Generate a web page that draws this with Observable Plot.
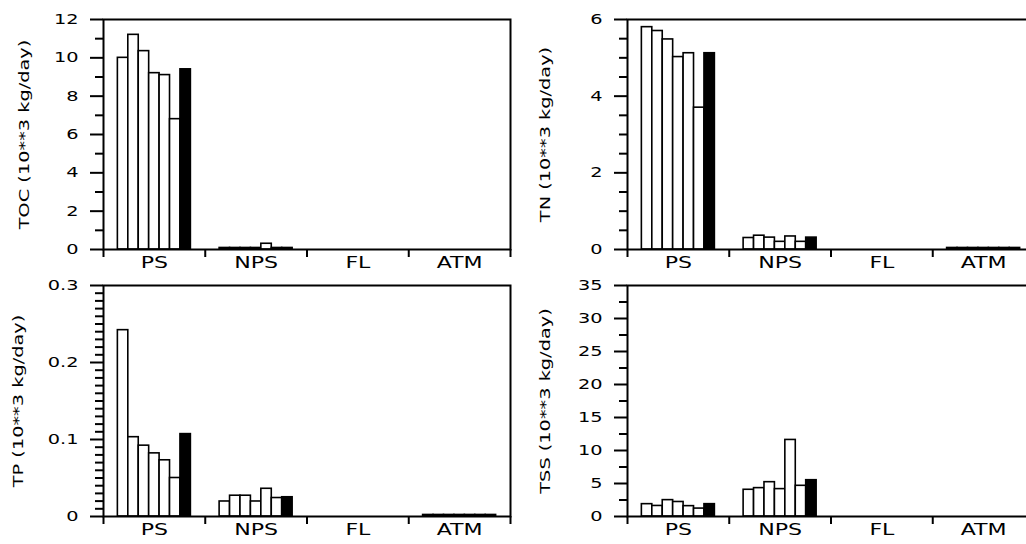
<!DOCTYPE html>
<html><head><meta charset="utf-8">
<script src="https://cdn.jsdelivr.net/npm/d3@7"></script>
<script src="https://cdn.jsdelivr.net/npm/@observablehq/plot@0.6"></script>
<style>
html,body{margin:0;padding:0;background:#fff;overflow:hidden;}
#chart{position:relative;width:1026px;height:544px;overflow:hidden;background:#fff;}
#chart svg{position:absolute;}
</style></head><body><div id="chart"></div>
<script>
// Categories along each x axis
const categories = ["PS", "NPS", "FL", "ATM"];

// TOC (10**3 kg/day): 7 bars per category (last = black)
const tocPS  = [10.0, 11.2, 10.35, 9.2, 9.1, 6.8, 9.4];
const tocNPS = [0.08, 0.08, 0.08, 0.08, 0.3, 0.08, 0.08];
const tocFL  = [0, 0, 0, 0, 0, 0, 0];
const tocATM = [0, 0, 0, 0, 0, 0, 0];

// TN (10**3 kg/day)
const tnPS  = [5.8, 5.7, 5.48, 5.02, 5.12, 3.7, 5.12];
const tnNPS = [0.30, 0.36, 0.31, 0.20, 0.34, 0.20, 0.31];
const tnFL  = [0, 0, 0, 0, 0, 0, 0];
const tnATM = [0.04, 0.04, 0.04, 0.04, 0.04, 0.04, 0.04];

// TP (10**3 kg/day)
const tpPS  = [0.242, 0.103, 0.092, 0.082, 0.073, 0.05, 0.107];
const tpNPS = [0.0195, 0.027, 0.027, 0.0195, 0.036, 0.024, 0.025];
const tpFL  = [0, 0, 0, 0, 0, 0, 0];
const tpATM = [0.002, 0.002, 0.002, 0.002, 0.002, 0.002, 0.002];

// TSS (10**3 kg/day)
const tssPS  = [1.87, 1.6, 2.48, 2.2, 1.57, 1.2, 1.87];
const tssNPS = [4.05, 4.3, 5.2, 4.15, 11.6, 4.65, 5.5];
const tssFL  = [0, 0, 0, 0, 0, 0, 0];
const tssATM = [0, 0, 0, 0, 0, 0, 0];

// Axis tick labels
const tocTicks = [0, 2, 4, 6, 8, 10, 12];
const tnTicks  = [0, 2, 4, 6];
const tpTicks  = [0, 0.1, 0.2, 0.3];
const tssTicks = [0, 5, 10, 15, 20, 25, 30, 35];

const labels = ["TOC (10**3 kg/day)", "TN (10**3 kg/day)", "TP (10**3 kg/day)", "TSS (10**3 kg/day)"];

const panels = [
  {label: labels[0], series: [tocPS, tocNPS, tocFL, tocATM], domain: [0, 12], major: tocTicks, minorStep: 1, left: 0, top: 0, mb: 23, labelX: 24},
  {label: labels[1], series: [tnPS, tnNPS, tnFL, tnATM], domain: [0, 6], major: tnTicks, minorStep: 0.5, left: 524, top: 0, mb: 23, labelX: 21},
  {label: labels[2], series: [tpPS, tpNPS, tpFL, tpATM], domain: [0, 0.3], major: tpTicks, minorStep: 0.01, left: 0, top: 266, mb: 22, labelX: 18},
  {label: labels[3], series: [tssPS, tssNPS, tssFL, tssATM], domain: [0, 35], major: tssTicks, minorStep: 2.5, left: 524, top: 266, mb: 22, labelX: 21}
];

const W = 520, H = 272, ML = 103, MR = 10, MT = 19;
const barFrac = 10.43 / 101.75;           // one bar's share of a category
const groupOff = (1 - 7 * barFrac) / 2;   // centering offset of the 7-bar group
const fmt = d => String(+d.toFixed(3));

const chart = document.getElementById("chart");

panels.forEach(p => {
  const rows = [];
  p.series.forEach((vals, ci) => vals.forEach((v, bi) => rows.push({cat: categories[ci], ci, bi, value: v})));
  const n = Math.round((p.domain[1] - p.domain[0]) / p.minorStep);
  const minor = d3.range(0, n + 1).map(i => +(i * p.minorStep).toFixed(4))
    .filter(t => !p.major.some(m => Math.abs(m - t) < 1e-9));
  const x1 = d => d.ci + groupOff + d.bi * barFrac;
  const x2 = d => d.ci + groupOff + (d.bi + 1) * barFrac;
  const svg = Plot.plot({
    width: W, height: H,
    marginLeft: ML, marginRight: MR, marginTop: MT, marginBottom: p.mb,
    x: {domain: [0, 4], axis: null},
    y: {domain: p.domain, axis: null},
    style: {fontFamily: "DejaVu Sans", fontSize: "14px", color: "#000", background: "transparent", overflow: "visible"},
    marks: [
      Plot.rectY(rows, {filter: d => d.bi < 6 && d.value > 0, x1, x2, y1: 0, y2: "value", fill: "#fff", stroke: "#000", strokeWidth: 1.6}),
      Plot.rectY(rows, {filter: d => d.bi === 6 && d.value > 0, x1, x2, y1: 0, y2: "value", fill: "#000", stroke: "#000", strokeWidth: 1.6}),
      Plot.frame({stroke: "#000", strokeWidth: 2}),
      Plot.axisX({ticks: [0, 1, 2, 3, 4], tickSize: 8, tickFormat: () => "", strokeWidth: 2}),
      Plot.axisX({ticks: [0.5, 1.5, 2.5, 3.5], tickSize: 0, tickPadding: 7, fontSize: 16,
        tickFormat: v => categories[Math.floor(v)]}),
      Plot.axisY({ticks: p.major, tickSize: 13, tickPadding: 12, tickFormat: fmt, label: null, strokeWidth: 2, fontSize: 14}),
      Plot.axisY({ticks: minor, tickSize: 8, tickFormat: () => "", label: null, strokeWidth: 2}),
      Plot.text([p.label], {text: d => d, frameAnchor: "left", textAnchor: "middle", lineAnchor: "middle", rotate: -90, dx: -(ML - p.labelX), fontSize: 14, fill: "#000"})
    ]
  });
  svg.style.left = p.left + "px";
  svg.style.top = p.top + "px";
  chart.appendChild(svg);
  // stretch glyphs horizontally to mimic the wide bitmap font
  d3.select(svg).selectAll("text").each(function() {
    const len = this.getComputedTextLength();
    if (len > 0) {
      this.setAttribute("textLength", (len * 1.38).toFixed(1));
      this.setAttribute("lengthAdjust", "spacingAndGlyphs");
    }
  });
});
</script>
</body></html>
